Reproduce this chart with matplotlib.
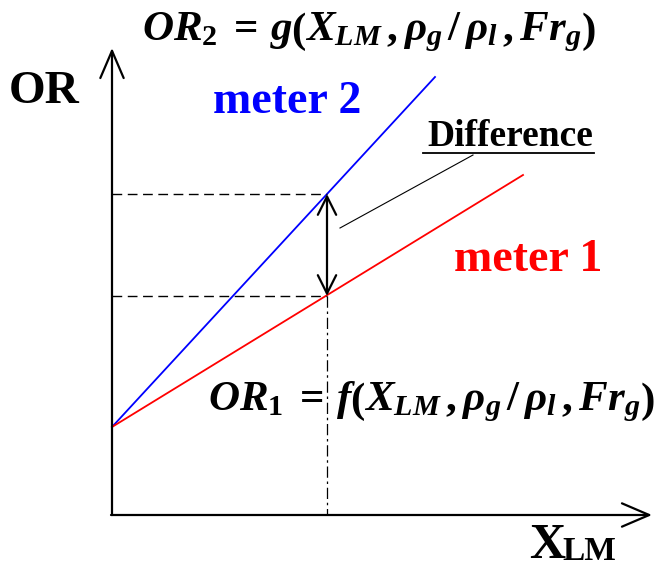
import matplotlib.pyplot as plt

plt.rcParams['mathtext.fontset'] = 'custom'
plt.rcParams['mathtext.it'] = 'Liberation Serif:italic:bold'
plt.rcParams['mathtext.rm'] = 'Liberation Serif:bold'
plt.rcParams['mathtext.bf'] = 'Liberation Serif:bold'

# schematic geometry (pixel space of the original sketch)
origin = (112, 515)
x_end = 652
y_end = 48
start = (112, 427)           # common starting point of both meters
meter2_end = (435, 77)
meter1_end = (523, 175)
x_mark = 327
diff_top = 194
diff_bottom = 296
leader = ([340, 473], [228, 155])
underline = ([423, 594], [153, 153])

labels = {
    'top': r'$OR_2\;=\,g\left(X_{LM}\,,\rho_g\,/\,\rho_l\,,Fr_g\right)$',
    'bottom': r'$OR_1\;=\,f\left(X_{LM}\,,\rho_g\,/\,\rho_l\,,Fr_g\right)$',
}

fig = plt.figure(figsize=(6.58, 5.71), dpi=100)
ax = fig.add_axes([0, 0, 1, 1])
ax.set_xlim(0, 658)
ax.set_ylim(571, 0)
ax.axis('off')

# axes arrows
ax.annotate('', xy=(origin[0], y_end), xytext=origin,
            arrowprops=dict(arrowstyle='->,head_length=0.7,head_width=0.3',
                            lw=1.6, color='black', mutation_scale=28, shrinkA=0, shrinkB=0))
ax.annotate('', xy=(x_end, origin[1]), xytext=(origin[0] - 1, origin[1]),
            arrowprops=dict(arrowstyle='->,head_length=0.7,head_width=0.3',
                            lw=1.6, color='black', mutation_scale=28, shrinkA=0, shrinkB=0))

# meters
ax.plot([start[0], meter2_end[0]], [start[1], meter2_end[1]], color='blue', lw=1.3)
ax.plot([start[0], meter1_end[0]], [start[1], meter1_end[1]], color='red', lw=1.3)

# guides
ax.plot([origin[0], x_mark], [diff_top, diff_top], color='black', lw=1, dashes=(7, 4))
ax.plot([origin[0], x_mark], [diff_bottom, diff_bottom], color='black', lw=1, dashes=(7, 4))
ax.plot([x_mark, x_mark], [diff_bottom, origin[1]], color='black', lw=0.9,
        dashes=(9, 3, 2, 3))

# difference arrow
ax.annotate('', xy=(x_mark, diff_top), xytext=(x_mark, diff_bottom),
            arrowprops=dict(arrowstyle='<->,head_length=0.6,head_width=0.3',
                            lw=1.6, color='black', mutation_scale=22, shrinkA=0, shrinkB=0))
ax.plot(leader[0], leader[1], color='black', lw=0.8)
ax.plot(underline[0], underline[1], color='black', lw=1.3)

serif = 'Liberation Serif'
ax.text(44, 92, 'OR', fontsize=34, fontweight='bold', family=serif, ha='center', va='center')
ax.text(547, 558, 'X', fontsize=36, fontweight='bold', family=serif, ha='center', va='baseline')
ax.text(589, 560, 'LM', fontsize=24, fontweight='bold', family=serif, ha='center', va='baseline')
ax.text(287, 102, 'meter 2', fontsize=33, fontweight='bold', family=serif,
        color='blue', ha='center', va='center')
ax.text(528, 260, 'meter 1', fontsize=33, fontweight='bold', family=serif,
        color='red', ha='center', va='center')
ax.text(510, 136, 'Difference', fontsize=27, fontweight='bold', family=serif,
        ha='center', va='center')
ax.text(369, 40, labels['top'], fontsize=31, ha='center', va='baseline')
ax.text(431, 410, labels['bottom'], fontsize=31, ha='center', va='baseline')

fig.savefig('out.png', dpi=100)
